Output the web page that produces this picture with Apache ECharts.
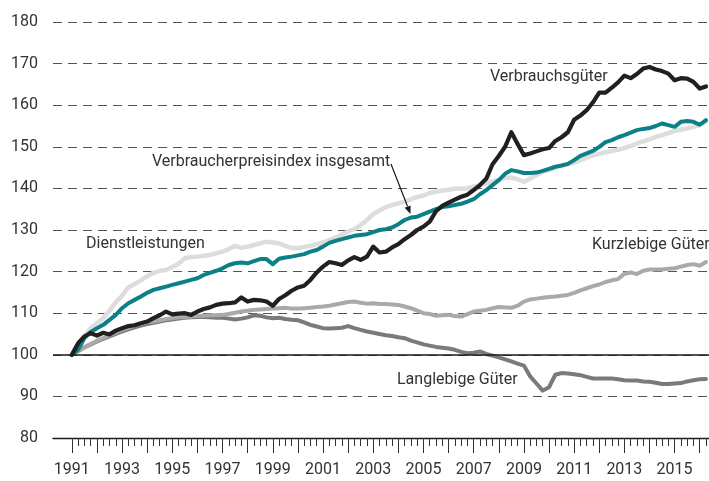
<!DOCTYPE html>
<html>
<head>
<meta charset="utf-8">
<script src="https://cdn.jsdelivr.net/npm/echarts@6/dist/echarts.min.js"></script>
<style>
  html, body { margin: 0; padding: 0; background: #fff; }
  #chart { width: 709px; height: 481px; }
</style>
</head>
<body>
<div id="chart"></div>
<script>
// Quarterly price indices, 1991 Q1 = 100
const firstYear = 1991;

const yearTicks = [1991, 1992, 1993, 1994, 1995, 1996, 1997, 1998, 1999, 2000, 2001, 2002, 2003,
  2004, 2005, 2006, 2007, 2008, 2009, 2010, 2011, 2012, 2013, 2014, 2015, 2016];
const yearLabels = [1991, 1993, 1995, 1997, 1999, 2001, 2003, 2005, 2007, 2009, 2011, 2013, 2015];
const yTicks = [80, 90, 100, 110, 120, 130, 140, 150, 160, 170, 180];

const verbrauchsgueter = [
  100, 102.8, 104.4, 105.2, 104.6, 105.3, 104.9, 105.8, 106.4, 106.9,
  107.1, 107.6, 108, 108.8, 109.5, 110.4, 109.7, 109.9, 110, 109.6,
  110.4, 111, 111.4, 112, 112.3, 112.4, 112.6, 113.8, 112.8, 113.2,
  113.1, 112.8, 111.8, 113.4, 114.3, 115.4, 116.2, 116.6, 118, 119.8,
  121.2, 122.3, 122, 121.6, 122.7, 123.5, 122.8, 123.6, 126, 124.6,
  124.8, 125.8, 126.6, 127.8, 128.8, 130, 130.8, 132, 134.5, 135.8,
  136.6, 137.3, 138, 138.5, 139.6, 140.8, 142.3, 145.8, 147.8, 150,
  153.5, 150.7, 148, 148.4, 148.9, 149.4, 149.7, 151.4, 152.3, 153.5,
  156.5, 157.5, 158.8, 160.7, 163, 163, 164.2, 165.5, 167.1, 166.5,
  167.5, 168.8, 169.2, 168.6, 168.2, 167.6, 166, 166.5, 166.4, 165.6,
  164, 164.5
];

const vpiInsgesamt = [
  100, 101.2, 104, 105.5, 106.4, 107.2, 108.4, 109.6, 111.2, 112.4,
  113.2, 114, 114.9, 115.6, 116, 116.4, 116.8, 117.2, 117.6, 118,
  118.4, 119.2, 119.7, 120.2, 120.8, 121.6, 122, 122.2, 122, 122.5,
  123, 123, 121.8, 123.1, 123.4, 123.6, 123.9, 124.2, 124.8, 125.2,
  126, 126.9, 127.4, 127.8, 128.2, 128.6, 128.8, 129, 129.5, 130,
  130.2, 130.6, 131.4, 132.4, 133, 133.2, 133.8, 134.4, 135, 135.5,
  135.7, 136, 136.3, 136.8, 137.4, 138.6, 139.6, 140.8, 142, 143.5,
  144.4, 144.1, 143.7, 143.7, 143.8, 144.2, 144.7, 145.2, 145.5, 145.9,
  146.8, 147.8, 148.4, 149, 150, 151.1, 151.6, 152.3, 152.8, 153.4,
  154, 154.3, 154.5, 155, 155.6, 155.2, 154.8, 156, 156.2, 156,
  155.3, 156.4
];

const dienstleistungen = [
  100, 102.5, 104.5, 106.4, 107.6, 108.8, 110.6, 112.6, 114.2, 116.2,
  117, 117.9, 118.9, 119.7, 120.2, 120.4, 121.1, 121.9, 123.2, 123.5,
  123.6, 123.8, 124, 124.4, 124.8, 125.4, 126.2, 125.7, 126, 126.4,
  126.8, 127.2, 127, 126.8, 126.2, 125.7, 125.7, 125.9, 126.2, 126.6,
  127, 127.6, 128.2, 128.9, 129.6, 130.2, 131.2, 132.4, 133.8, 134.7,
  135.5, 136, 136.4, 136.8, 137.4, 137.9, 138.3, 138.9, 139.2, 139.5,
  139.7, 139.9, 140, 140, 140.4, 140.8, 141.2, 141.7, 142.1, 142.5,
  142.6, 142.2, 141.6, 142.4, 143.2, 144, 144.4, 145, 145.4, 145.8,
  146.2, 146.8, 147.4, 147.9, 148.3, 148.7, 149, 149.3, 149.7, 150.2,
  150.8, 151.3, 151.8, 152.4, 152.8, 153.3, 153.8, 154.1, 154.4, 154.8,
  155.2, 156.2
];

const kurzlebigeGueter = [
  100, 100.8, 101.8, 102.6, 103.4, 104, 104.7, 105.4, 106, 106.5,
  107, 107.4, 107.8, 108, 108.3, 108.6, 108.8, 109, 109.1, 109.2,
  109.3, 109.4, 109.5, 109.5, 109.6, 109.8, 110.1, 110.4, 110.6, 110.8,
  110.9, 111, 111.1, 111.2, 111.3, 111.1, 111.1, 111.2, 111.3, 111.5,
  111.6, 111.8, 112.1, 112.4, 112.7, 112.8, 112.5, 112.3, 112.4, 112.2,
  112.2, 112.1, 112, 111.6, 111.2, 110.6, 110, 109.8, 109.4, 109.5,
  109.6, 109.3, 109.2, 109.8, 110.4, 110.6, 110.8, 111.2, 111.5, 111.4,
  111.3, 111.8, 112.8, 113.3, 113.5, 113.7, 113.9, 114, 114.2, 114.4,
  114.9, 115.5, 116, 116.5, 116.9, 117.5, 117.9, 118.2, 119.5, 119.8,
  119.4, 120.2, 120.5, 120.5, 120.5, 120.7, 120.8, 121.2, 121.6, 121.8,
  121.4, 122.3
];

const langlebigeGueter = [
  100, 100.9, 101.8, 102.5, 103.2, 103.8, 104.4, 105, 105.6, 106.1,
  106.6, 107, 107.4, 107.7, 108, 108.3, 108.5, 108.7, 108.9, 109,
  109.1, 109.1, 109, 108.9, 108.9, 108.7, 108.5, 108.7, 109, 109.5,
  109.4, 109, 108.8, 108.9, 108.6, 108.4, 108.3, 107.8, 107.2, 106.8,
  106.4, 106.3, 106.4, 106.5, 106.9, 106.4, 106, 105.6, 105.3, 105,
  104.7, 104.5, 104.2, 104, 103.4, 103, 102.5, 102.2, 101.9, 101.7,
  101.5, 101.2, 100.7, 100.4, 100.5, 100.8, 100.2, 99.8, 99.4, 98.9,
  98.4, 97.9, 97.4, 94.8, 93.1, 91.4, 92.2, 95.2, 95.6, 95.5,
  95.3, 95.1, 94.7, 94.3, 94.3, 94.3, 94.3, 94.1, 93.9, 93.8,
  93.8, 93.6, 93.5, 93.3, 93, 93, 93.1, 93.2, 93.6, 93.9,
  94.1, 94.2
];

// time position of each quarter (start of quarter, in years)
const periods = verbrauchsgueter.map((_, i) => firstYear + i / 4);
const quarterTicks = periods.filter((t) => t % 1 !== 0);

const pairs = (values) => values.map((v, i) => [periods[i], v]);

const FONT = 'Roboto';
const TEXT = '#333333';
const LABEL_FONT = '16px ' + FONT;

const chart = echarts.init(document.getElementById('chart'), null, { renderer: 'canvas' });

function lineSeries(name, values, color, width) {
  return {
    name,
    type: 'line',
    data: pairs(values),
    showSymbol: false,
    symbol: 'none',
    clip: true,
    lineStyle: { color, width, join: 'round', cap: 'round' },
    emphasis: { disabled: true }
  };
}

const langSeries = lineSeries('Langlebige Güter', langlebigeGueter, '#7a7a7a', 4);
langSeries.markLine = {
  silent: true,
  symbol: 'none',
  label: { show: false },
  lineStyle: { color: '#1a1a1a', type: 'solid', width: 1.5 },
  data: [{ yAxis: 100 }]
};

// arrow from the VPI label down to its line
const arrowFrom = [391, 164];
const arrowTo = [410.5, 214];
const dx = arrowTo[0] - arrowFrom[0], dy = arrowTo[1] - arrowFrom[1];
const len = Math.hypot(dx, dy), ux = dx / len, uy = dy / len;
const headLen = 8, headHalf = 3.2;
const base = [arrowTo[0] - ux * headLen, arrowTo[1] - uy * headLen];

chart.setOption({
  animation: false,
  backgroundColor: '#ffffff',
  grid: { left: 53, right: 0, top: 22, bottom: 43, containLabel: false },
  xAxis: [
    {
      type: 'value',
      min: 1990.25,
      max: 2016.37,
      axisLine: { show: true, lineStyle: { color: '#1a1a1a', width: 1.3 } },
      axisTick: { show: true, customValues: yearTicks, length: 15, lineStyle: { color: '#333', width: 1 } },
      axisLabel: {
        show: true,
        customValues: yearLabels,
        formatter: (v) => String(v),
        margin: 24,
        fontSize: 16,
        fontFamily: FONT,
        color: TEXT
      },
      splitLine: { show: false }
    },
    {
      type: 'value',
      min: 1990.25,
      max: 2016.37,
      position: 'bottom',
      axisLine: { show: false },
      axisTick: { show: true, customValues: quarterTicks, length: 8, lineStyle: { color: '#333', width: 1 } },
      axisLabel: { show: false },
      splitLine: { show: false }
    }
  ],
  yAxis: {
    type: 'value',
    min: yTicks[0],
    max: yTicks[yTicks.length - 1],
    interval: 10,
    axisLine: { show: false },
    axisTick: { show: false },
    axisLabel: { fontSize: 16, fontFamily: FONT, color: TEXT, margin: 15 },
    splitLine: { show: true, lineStyle: { color: '#555', width: 1, type: [9, 6] } }
  },
  series: [
    langSeries,
    lineSeries('Kurzlebige Güter', kurzlebigeGueter, '#a9a9a9', 4),
    lineSeries('Dienstleistungen', dienstleistungen, '#dddddd', 4.5),
    lineSeries('Verbraucherpreisindex insgesamt', vpiInsgesamt, '#0b8087', 4),
    lineSeries('Verbrauchsgüter', verbrauchsgueter, '#221f20', 4.2)
  ],
  graphic: [
    { type: 'text', style: { text: 'Verbrauchsgüter', x: 490, y: 77, font: LABEL_FONT, fill: TEXT, textVerticalAlign: 'middle' } },
    { type: 'text', style: { text: 'Verbraucherpreisindex insgesamt', x: 152, y: 162, font: LABEL_FONT, fill: TEXT, textVerticalAlign: 'middle' } },
    { type: 'text', style: { text: 'Dienstleistungen', x: 86, y: 244, font: LABEL_FONT, fill: TEXT, textVerticalAlign: 'middle' } },
    { type: 'text', style: { text: 'Kurzlebige Güter', x: 592, y: 245, font: LABEL_FONT, fill: TEXT, textVerticalAlign: 'middle' } },
    { type: 'text', style: { text: 'Langlebige Güter', x: 397, y: 380, font: LABEL_FONT, fill: TEXT, textVerticalAlign: 'middle' } },
    {
      type: 'line',
      shape: { x1: arrowFrom[0], y1: arrowFrom[1], x2: base[0], y2: base[1] },
      style: { stroke: '#1a1a1a', lineWidth: 1.2 },
      z: 100
    },
    {
      type: 'polygon',
      shape: {
        points: [
          arrowTo,
          [base[0] - uy * headHalf, base[1] + ux * headHalf],
          [base[0] + uy * headHalf, base[1] - ux * headHalf]
        ]
      },
      style: { fill: '#1a1a1a' },
      z: 100
    }
  ]
});
</script>
</body>
</html>
